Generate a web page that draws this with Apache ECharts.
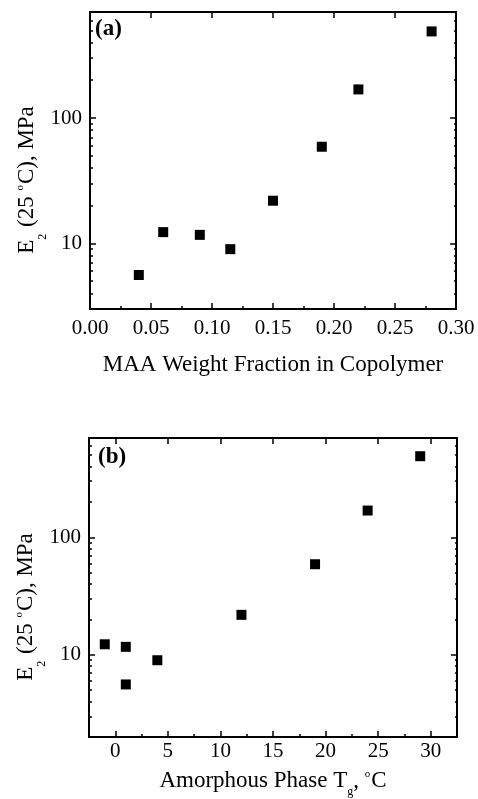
<!DOCTYPE html>
<html><head><meta charset="utf-8">
<script src="https://cdn.jsdelivr.net/npm/echarts@6/dist/echarts.min.js"></script>
<style>html,body{margin:0;padding:0;background:#fff}#c{width:478px;height:799px}</style>
</head><body><div id="c"></div>
<script>
// ---- data ----
const maaFraction = [0.04, 0.06, 0.09, 0.115, 0.15, 0.19, 0.22, 0.28];
const tgValues    = [1, -1, 1, 4, 12, 19, 24, 29];
const modulusE2   = [5.6, 12.3, 11.7, 9.0, 21.9, 59, 169, 490];

// ---- ticks ----
const yMajorTicks = [10, 100];
const yMinorTicks = [2, 3, 4, 5, 6, 7, 8, 9, 20, 30, 40, 50, 60, 70, 80, 90, 200, 300, 400, 500, 600, 700, 800, 900];
const tgMajorTicks = [0, 5, 10, 15, 20, 25, 30];
const tgMinorTicks = [2.5, 7.5, 12.5, 17.5, 22.5, 27.5];

const FONT = 'Liberation Serif';
const BLACK = '#000';
const TICK_FS = 21;

const topRange = { xmin: 0, xmax: 0.30, ymin: 3, ymax: 700 };
const botRange = { xmin: -2.5, xmax: 32.5, ymin: 2, ymax: 700 };

const rich = {
  a: { fontFamily: FONT, fontSize: 23, color: BLACK, lineHeight: 28, verticalAlign: 'top' },
  s: { fontFamily: FONT, fontSize: 12, color: BLACK, lineHeight: 12, verticalAlign: 'top', padding: [22, 1, 0, 0] },
  g: { fontFamily: FONT, fontSize: 12, color: BLACK, lineHeight: 12, verticalAlign: 'top', padding: [17, 0, 0, 0] },
  p: { fontFamily: FONT, fontSize: 11, color: BLACK, lineHeight: 6, verticalAlign: 'top', padding: [0, 1, 0, 0] }
};
const yName = '{a|E}{s|2}{a| (25 }{p|o}{a|C), MPa}';

const line = { onZero: false, lineStyle: { color: BLACK, width: 2 } };
const tickStyle = { color: BLACK, width: 1.5 };
const noLabel = { show: false };
const noSplit = { show: false };

function inRange(arr, lo, hi) { return arr.filter(v => v > lo && v < hi); }

function yAxes(grid, r) {
  const minor = inRange(yMinorTicks, r.ymin, r.ymax);
  const major = inRange(yMajorTicks, r.ymin, r.ymax);
  const base = { gridIndex: grid, type: 'log', logBase: 10, min: r.ymin, max: r.ymax, axisLine: line, splitLine: noSplit };
  return [
    Object.assign({}, base, {
      position: 'left',
      axisTick: { inside: true, length: 6, lineStyle: tickStyle, customValues: major },
      axisLabel: { customValues: major, margin: 8, color: BLACK, fontFamily: FONT, fontSize: TICK_FS, formatter: v => String(Math.round(v)) },
      name: yName, nameLocation: 'middle', nameRotate: 90, nameGap: 47, nameMoveOverlap: false,
      nameTextStyle: { rich: rich, padding: [0, 39, 0, 0] }
    }),
    Object.assign({}, base, { position: 'left', axisTick: { inside: true, length: 3, lineStyle: tickStyle, customValues: minor }, axisLabel: noLabel }),
    Object.assign({}, base, { position: 'right', axisTick: { inside: true, length: 6, lineStyle: tickStyle, customValues: major }, axisLabel: noLabel }),
    Object.assign({}, base, { position: 'right', axisTick: { inside: true, length: 2, lineStyle: tickStyle, customValues: minor }, axisLabel: noLabel })
  ];
}

const xAxis = [
  { gridIndex: 0, type: 'value', position: 'bottom', min: topRange.xmin, max: topRange.xmax, interval: 0.05,
    axisLine: line, splitLine: noSplit,
    axisTick: { inside: true, length: 6, lineStyle: tickStyle },
    minorTick: { show: true, splitNumber: 2, length: 3, lineStyle: tickStyle },
    axisLabel: { margin: 9, color: BLACK, fontFamily: FONT, fontSize: TICK_FS, formatter: v => v.toFixed(2) },
    name: '{a|MAA Weight Fraction in Copolymer}', nameLocation: 'middle', nameGap: 44, nameMoveOverlap: false,
    nameTextStyle: { rich: rich } },
  { gridIndex: 0, type: 'value', position: 'top', min: topRange.xmin, max: topRange.xmax, interval: 0.05,
    axisLine: line, splitLine: noSplit,
    axisTick: { inside: true, length: 6, lineStyle: tickStyle }, axisLabel: noLabel },
  { gridIndex: 1, type: 'value', position: 'bottom', min: botRange.xmin, max: botRange.xmax,
    axisLine: line, splitLine: noSplit,
    axisTick: { inside: true, length: 6, lineStyle: tickStyle, customValues: tgMajorTicks },
    axisLabel: { customValues: tgMajorTicks, margin: 4, color: BLACK, fontFamily: FONT, fontSize: TICK_FS, formatter: v => String(v) },
    name: '{a|Amorphous Phase T}{g|g}{a|, }{p|o}{a|C}', nameLocation: 'middle', nameGap: 32, nameMoveOverlap: false,
    nameTextStyle: { rich: rich } },
  { gridIndex: 1, type: 'value', position: 'bottom', min: botRange.xmin, max: botRange.xmax,
    axisLine: line, splitLine: noSplit,
    axisTick: { inside: true, length: 3, lineStyle: tickStyle, customValues: tgMinorTicks }, axisLabel: noLabel },
  { gridIndex: 1, type: 'value', position: 'top', min: botRange.xmin, max: botRange.xmax,
    axisLine: line, splitLine: noSplit,
    axisTick: { inside: true, length: 6, lineStyle: tickStyle, customValues: tgMajorTicks }, axisLabel: noLabel }
];

const yAxis = yAxes(0, topRange).concat(yAxes(1, botRange));

const option = {
  animation: false,
  backgroundColor: '#fff',
  grid: [
    { left: 90, top: 12, width: 366, height: 297, containLabel: false, outerBoundsMode: 'none' },
    { left: 89, top: 438, width: 368, height: 299, containLabel: false, outerBoundsMode: 'none' }
  ],
  xAxis: xAxis,
  yAxis: yAxis,
  graphic: [
    { type: 'text', left: 95, top: 18, style: { text: '(a)', font: 'bold 23px "Liberation Serif"', fill: BLACK } },
    { type: 'text', left: 98, top: 446, style: { text: '(b)', font: 'bold 23px "Liberation Serif"', fill: BLACK } }
  ],
  series: [
    { type: 'scatter', xAxisIndex: 0, yAxisIndex: 0, symbol: 'rect', symbolSize: 10,
      itemStyle: { color: BLACK, opacity: 1 }, data: maaFraction.map((x, i) => [x, modulusE2[i]]) },
    { type: 'scatter', xAxisIndex: 2, yAxisIndex: 4, symbol: 'rect', symbolSize: 10,
      itemStyle: { color: BLACK, opacity: 1 }, data: tgValues.map((x, i) => [x, modulusE2[i]]) }
  ]
};
const chart = echarts.init(document.getElementById('c'), null, { renderer: 'canvas' });
chart.setOption(option);
</script></body></html>
